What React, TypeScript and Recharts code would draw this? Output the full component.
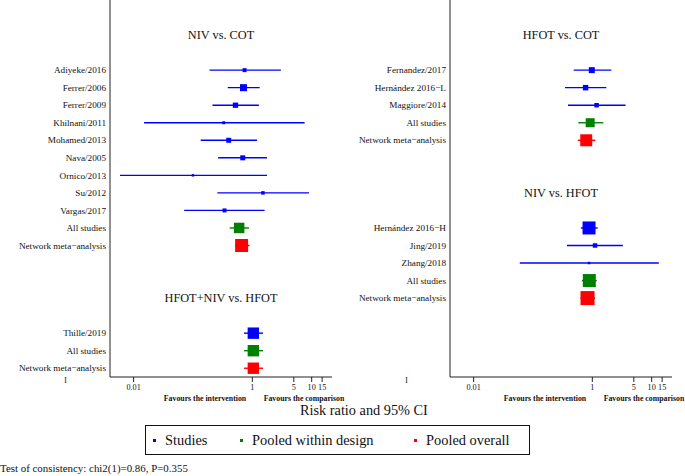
import { ComposedChart, Scatter, XAxis, YAxis, ZAxis, ErrorBar, ReferenceLine } from 'recharts';

const FONT = '"Liberation Serif", "Times New Roman", serif';
const BLUE = '#0000ff';
const GREEN = '#008000';
const RED = '#ff0000';

// NIV vs. COT
const nivCotStudies = ['Adiyeke/2016', 'Ferrer/2006', 'Ferrer/2009', 'Khilnani/2011', 'Mohamed/2013', 'Nava/2005', 'Ornico/2013', 'Su/2012', 'Vargas/2017'];
const nivCotRR = [0.74, 0.71, 0.52, 0.33, 0.4, 0.69, 0.1, 1.51, 0.34];
const nivCotLow = [0.19, 0.385, 0.213, 0.015, 0.135, 0.265, 0.0059, 0.258, 0.071];
const nivCotHigh = [3.03, 1.33, 1.29, 7.6, 1.2, 1.77, 1.77, 9.0, 1.61];
const nivCotWeight = [16, 49, 28, 9, 25, 25, 6, 12, 16];
const nivCotWithin = [0.6, 0.416, 0.88];
const nivCotOverall = [0.66, 0.51, 0.9];

// HFOT+NIV vs. HFOT
const comboStudies = ['Thille/2019'];
const comboRR = [1.04];
const comboLow = [0.725];
const comboHigh = [1.51];
const comboWeight = [130];
const comboWithin = [1.04, 0.725, 1.51];
const comboOverall = [1.04, 0.725, 1.51];

// HFOT vs. COT
const hfotCotStudies = ['Fernandez/2017', 'Hernández 2016−L', 'Maggiore/2014'];
const hfotCotRR = [0.98, 0.77, 1.18];
const hfotCotLow = [0.485, 0.346, 0.389];
const hfotCotHigh = [2.09, 1.72, 3.63];
const hfotCotWeight = [36, 30, 20];
const hfotCotWithin = [0.92, 0.58, 1.53];
const hfotCotOverall = [0.79, 0.57, 1.12];

// NIV vs. HFOT
const nivHfotStudies = ['Hernández 2016−H', 'Jing/2019', 'Zhang/2018'];
const nivHfotRR = [0.88, 1.11, 0.88];
const nivHfotLow = [0.64, 0.374, 0.06];
const nivHfotHigh = [1.23, 3.27, 13.2];
const nivHfotWeight = [169, 20, 6];
const nivHfotWithin = [0.89, 0.67, 1.19];
const nivHfotOverall = [0.83, 0.63, 1.11];

const pooledWithinWeight = [110, 130, 81, 169];
const pooledOverallWeight = [169, 130, 144, 196];

const xTicks = [0.01, 1, 5, 10, 15];

type Group = {
  title: string;
  studies: string[];
  rr: number[];
  low: number[];
  high: number[];
  weight: number[];
  within: number[];
  overall: number[];
  withinW: number;
  overallW: number;
};

const leftGroups: Group[] = [
  { title: 'NIV vs. COT', studies: nivCotStudies, rr: nivCotRR, low: nivCotLow, high: nivCotHigh, weight: nivCotWeight, within: nivCotWithin, overall: nivCotOverall, withinW: pooledWithinWeight[0], overallW: pooledOverallWeight[0] },
  { title: 'HFOT+NIV vs. HFOT', studies: comboStudies, rr: comboRR, low: comboLow, high: comboHigh, weight: comboWeight, within: comboWithin, overall: comboOverall, withinW: pooledWithinWeight[1], overallW: pooledOverallWeight[1] },
];

const rightGroups: Group[] = [
  { title: 'HFOT vs. COT', studies: hfotCotStudies, rr: hfotCotRR, low: hfotCotLow, high: hfotCotHigh, weight: hfotCotWeight, within: hfotCotWithin, overall: hfotCotOverall, withinW: pooledWithinWeight[2], overallW: pooledOverallWeight[2] },
  { title: 'NIV vs. HFOT', studies: nivHfotStudies, rr: nivHfotRR, low: nivHfotLow, high: nivHfotHigh, weight: nivHfotWeight, within: nivHfotWithin, overall: nivHfotOverall, withinW: pooledWithinWeight[3], overallW: pooledOverallWeight[3] },
];

type Pt = { x: number; y: number; w: number; err: [number, number] };

function pt(rr: number, lo: number, hi: number, w: number, y: number): Pt {
  return { x: rr, y, w, err: [rr - lo, hi - rr] };
}

function buildRows(groups: Group[]) {
  const titles: { row: number; title: string }[] = [];
  const labels: Record<number, string> = {};
  const studies: Pt[] = [];
  const within: Pt[] = [];
  const overall: Pt[] = [];
  let row = 2;
  groups.forEach((g) => {
    titles.push({ row, title: g.title });
    row += 2;
    g.studies.forEach((s, i) => {
      labels[row] = s;
      studies.push(pt(g.rr[i], g.low[i], g.high[i], g.weight[i], row));
      row++;
    });
    labels[row] = 'All studies';
    within.push(pt(g.within[0], g.within[1], g.within[2], g.withinW, row));
    row++;
    labels[row] = 'Network meta−analysis';
    overall.push(pt(g.overall[0], g.overall[1], g.overall[2], g.overallW, row));
    row += 3;
  });
  return { titles, labels, studies, within, overall };
}

function Panel({ groups }: { groups: Group[] }) {
  const { titles, labels, studies, within, overall } = buildRows(groups);
  const ticks = Object.keys(labels).map(Number);
  const series: [Pt[], string][] = [
    [studies, BLUE],
    [within, GREEN],
    [overall, RED],
  ];
  // plain <text> so the long study names never wrap
  const RowTick = (props: any) => {
    const { x, y, payload } = props;
    return (
      <text x={x} y={y} dy="0.35em" textAnchor="end" fontSize={9.2} fill="#111" fontFamily={FONT}>
        {labels[payload.value] ?? ''}
      </text>
    );
  };
  return (
    <ComposedChart width={340} height={405} margin={{ top: 0, right: 8, bottom: 3, left: 0 }}>
      <XAxis
        type="number"
        dataKey="x"
        scale="log"
        domain={[0.004, 22]}
        allowDataOverflow
        ticks={xTicks}
        interval={0}
        height={25}
        tickSize={5}
        tickMargin={2}
        tickFormatter={(v: number) => String(v)}
        tick={{ fontSize: 8.2, fill: '#111', fontFamily: FONT }}
        stroke="#222"
      />
      <YAxis
        type="number"
        dataKey="y"
        domain={[0, 21.5]}
        reversed
        allowDataOverflow
        ticks={ticks}
        interval={0}
        width={110}
        tickLine={false}
        tickSize={0}
        tickMargin={4}
        tick={RowTick}
        stroke="#222"
      />
      <ZAxis type="number" dataKey="w" domain={[0, 200]} range={[0, 200]} />
      {titles.map((t) => (
        <ReferenceLine
          key={t.title}
          y={t.row}
          stroke="none"
          label={{ value: t.title, position: 'center', fontSize: 12.3, fill: '#111', fontFamily: FONT }}
        />
      ))}
      {series.map(([data, color], i) => (
        <Scatter key={i} data={data} fill={color} shape="square" isAnimationActive={false}>
          <ErrorBar dataKey="err" direction="x" width={0} stroke={color} strokeWidth={1.4} isAnimationActive={false} />
        </Scatter>
      ))}
    </ComposedChart>
  );
}

const favourStyle = {
  position: 'absolute' as const,
  top: 394,
  fontSize: 7.8,
  fontWeight: 700,
  whiteSpace: 'nowrap' as const,
  transform: 'translateX(-50%)',
  color: '#111',
};

const legendItems: [string, string][] = [
  ['Studies', BLUE],
  ['Pooled within design', GREEN],
  ['Pooled overall', RED],
];

export default function App() {
  return (
    <div style={{ position: 'absolute', left: 0, top: 0, width: 685, height: 476, background: '#fff', fontFamily: FONT, overflow: 'hidden' }}>
      <div style={{ position: 'absolute', left: 0, top: 0 }}>
        <Panel groups={leftGroups} />
      </div>
      <div style={{ position: 'absolute', left: 340, top: 0 }}>
        <Panel groups={rightGroups} />
      </div>
      <div style={{ position: 'absolute', left: 64, top: 375, fontSize: 9, color: '#333' }}>I</div>
      <div style={{ position: 'absolute', left: 405, top: 375, fontSize: 9, color: '#333' }}>I</div>
      <div style={{ ...favourStyle, left: 205 }}>Favours the intervention</div>
      <div style={{ ...favourStyle, left: 304 }}>Favours the comparison</div>
      <div style={{ ...favourStyle, left: 545 }}>Favours the intervention</div>
      <div style={{ ...favourStyle, left: 644 }}>Favours the comparison</div>
      <div style={{ position: 'absolute', left: 300, top: 402, fontSize: 14.3, color: '#111', whiteSpace: 'nowrap' }}>
        Risk ratio and 95% CI
      </div>
      <div
        style={{
          position: 'absolute',
          left: 145,
          top: 425,
          width: 383,
          height: 28,
          border: '1.5px solid #111',
          display: 'flex',
          alignItems: 'center',
          fontSize: 14.4,
          color: '#111',
        }}
      >
        {legendItems.map(([name, color], i) => (
          <div key={name} style={{ position: 'absolute', left: [7, 94, 268][i], display: 'flex', alignItems: 'center', whiteSpace: 'nowrap' }}>
            <span style={{ width: 3, height: 3, background: color, display: 'inline-block', marginRight: 9 }} />
            {name}
          </div>
        ))}
      </div>
      <div style={{ position: 'absolute', left: 0, top: 462, fontSize: 10.9, color: '#111', whiteSpace: 'nowrap' }}>
        Test of consistency: chi2(1)=0.86, P=0.355
      </div>
    </div>
  );
}
